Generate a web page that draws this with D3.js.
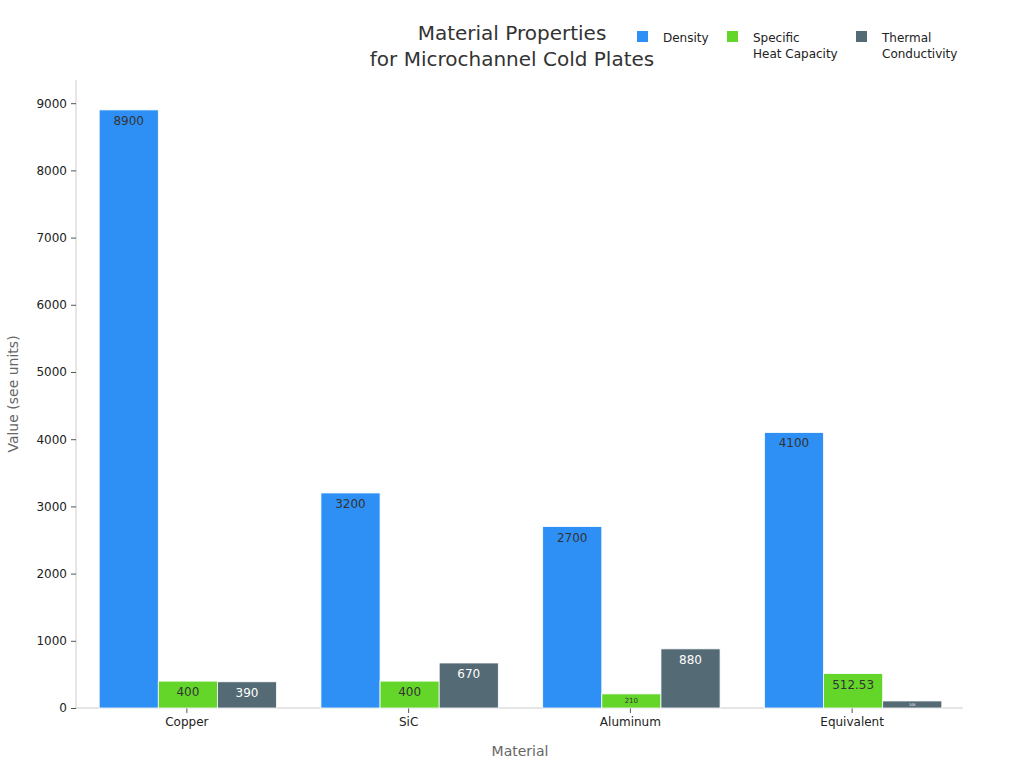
<!DOCTYPE html>
<html>
<head>
<meta charset="utf-8">
<script src="https://cdn.jsdelivr.net/npm/d3@7"></script>
<style>
  body { margin: 0; background: #fff; font-family: "DejaVu Sans", sans-serif; }
</style>
</head>
<body>
<svg width="1024" height="768"></svg>
<script>
const materials = ['Copper', 'SiC', 'Aluminum', 'Equivalent'];
const seriesNames = ['Density', 'Specific Heat Capacity', 'Thermal Conductivity'];
const legendLines = [['Density'], ['Specific', 'Heat Capacity'], ['Thermal', 'Conductivity']];
const density = [8900, 3200, 2700, 4100];
const heatCapacity = [400, 400, 210, 512.53];
const conductivity = [390, 670, 880, 105];
const labels = [['8900', '3200', '2700', '4100'], ['400', '400', '210', '512.53'], ['390', '670', '880', '105']];
const yTicks = [0, 1000, 2000, 3000, 4000, 5000, 6000, 7000, 8000, 9000];

const colors = ['#2e90f5', '#64d62a', '#546a75'];
const textColors = ['#333', '#333', '#fff'];
const values = [density, heatCapacity, conductivity];

const svg = d3.select('svg');
const margin = { left: 76, right: 61, top: 80, bottom: 60 };
const width = 1024, height = 768;

const x = d3.scaleBand()
  .domain(materials)
  .range([margin.left, width - margin.right])
  .paddingInner(0.2)
  .paddingOuter(0.1);

const xs = d3.scaleBand()
  .domain(d3.range(3))
  .range([0, x.bandwidth()]);

const y = d3.scaleLinear()
  .domain([0, 8900 * 1.05])
  .range([height - margin.bottom, margin.top]);

// axes
const yAxis = svg.append('g')
  .attr('transform', `translate(${margin.left},0)`)
  .call(d3.axisLeft(y).tickValues(yTicks).tickFormat(d3.format('d')).tickSize(5).tickPadding(4));
yAxis.select('.domain').attr('stroke', '#ccc').attr('d', `M0,${y(0)}V${margin.top}`);
yAxis.selectAll('.tick line').attr('stroke', '#555');
yAxis.selectAll('.tick text').attr('fill', '#222').style('font-size', '12px').style('font-family', 'DejaVu Sans');

const xAxis = svg.append('g')
  .attr('transform', `translate(0,${y(0)})`)
  .call(d3.axisBottom(x).tickSize(5).tickPadding(4));
xAxis.select('.domain').attr('stroke', '#ccc').attr('d', `M${margin.left},0H${width - margin.right}`);
xAxis.selectAll('.tick line').attr('stroke', '#555');
xAxis.selectAll('.tick text').attr('fill', '#222').style('font-size', '12px').style('font-family', 'DejaVu Sans');

// bars
values.forEach((series, s) => {
  const g = svg.append('g');
  g.selectAll('rect')
    .data(series)
    .join('rect')
    .attr('x', (d, i) => x(materials[i]) + xs(s) + 1)
    .attr('y', d => y(d))
    .attr('width', xs.bandwidth())
    .attr('height', d => y(0) - y(d))
    .attr('fill', colors[s])
    .attr('stroke', '#fff')
    .attr('stroke-width', 0.8);

  g.selectAll('text')
    .data(series)
    .join('text')
    .attr('x', (d, i) => x(materials[i]) + xs(s) + xs.bandwidth() / 2 + 1)
    .each(function (d, i) {
      const h = y(0) - y(d);
      const fs = Math.min(12, h * 0.5);
      d3.select(this)
        .attr('y', y(d) + Math.min(fs + 3, h / 2 + fs * 0.35))
        .style('font-size', `${fs}px`);
    })
    .attr('text-anchor', 'middle')
    .attr('fill', textColors[s])
    .style('font-family', 'DejaVu Sans')
    .text((d, i) => labels[s][i]);
});

// title
svg.append('text')
  .attr('x', 512).attr('y', 40)
  .attr('text-anchor', 'middle')
  .attr('fill', '#333')
  .style('font-size', '20px')
  .selectAll('tspan')
  .data(['Material Properties', 'for Microchannel Cold Plates'])
  .join('tspan')
  .attr('x', 512)
  .attr('dy', (d, i) => i ? 26 : 0)
  .text(d => d);

// axis titles
svg.append('text')
  .attr('x', 520).attr('y', 756)
  .attr('text-anchor', 'middle')
  .attr('fill', '#666')
  .style('font-size', '14px')
  .text('Material');

svg.append('text')
  .attr('transform', `translate(18,${(y(0) + margin.top) / 2}) rotate(-90)`)
  .attr('text-anchor', 'middle')
  .attr('fill', '#666')
  .style('font-size', '14px')
  .text('Value (see units)');

// legend
const legendX = [637, 727, 856];
const legend = svg.append('g');
seriesNames.forEach((name, s) => {
  legend.append('rect')
    .attr('x', legendX[s]).attr('y', 31)
    .attr('width', 11).attr('height', 11)
    .attr('fill', colors[s]);
  legend.append('text')
    .attr('x', legendX[s] + 26).attr('y', 42)
    .attr('fill', '#222')
    .style('font-size', '12px')
    .selectAll('tspan')
    .data(legendLines[s])
    .join('tspan')
    .attr('x', legendX[s] + 26)
    .attr('dy', (d, i) => i ? 16 : 0)
    .text(d => d);
});
</script>
</body>
</html>
